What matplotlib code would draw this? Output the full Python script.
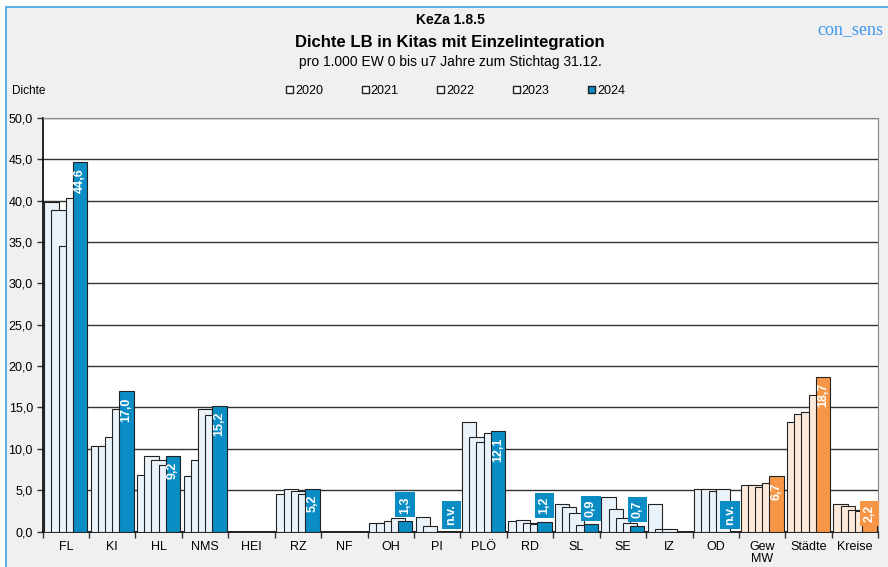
import numpy as np
import matplotlib.pyplot as plt
from matplotlib.patches import Patch, Rectangle

plt.rcParams['font.family'] = ['Liberation Sans', 'DejaVu Sans']

categories = ['FL', 'KI', 'HL', 'NMS', 'HEI', 'RZ', 'NF', 'OH', 'PI', 'PLÖ',
              'RD', 'SL', 'SE', 'IZ', 'OD', 'Gew\nMW', 'Städte', 'Kreise']
years = ['2020', '2021', '2022', '2023', '2024']
nan = np.nan
v2020 = [39.8, 10.3, 6.9, 6.7, nan, 4.6, nan, 1.0, 1.8, 13.2, 1.3, 3.35, 4.2, 3.3, 5.1, 5.6, 13.25, 3.4]
v2021 = [38.9, 10.3, 9.2, 8.7, nan, 5.1, nan, 1.0, 0.7, 11.4, 1.45, 3.0, 2.7, 0.3, 5.1, 5.6, 14.2, 3.05]
v2022 = [34.5, 11.4, 8.6, 14.8, nan, 4.9, nan, 1.3, nan, 10.8, 1.0, 2.2, 1.6, 0.3, 4.9, 5.4, 14.5, 2.6]
v2023 = [40.3, 14.8, 8.1, 14.1, nan, 4.5, nan, 1.6, nan, 11.9, 0.9, 0.85, 1.0, nan, 5.2, 5.9, 16.5, 2.5]
v2024 = [44.6, 17.0, 9.2, 15.2, nan, 5.2, nan, 1.3, nan, 12.1, 1.2, 0.9, 0.7, nan, nan, 6.7, 18.7, 2.2]
labels2024 = ['44,6', '17,0', '9,2', '15,2', '', '5,2', '', '1,3', 'n.v.', '12,1',
              '1,2', '0,9', '0,7', '', 'n.v.', '6,7', '18,7', '2,2']
yticks = np.arange(0, 50.1, 5)

blue = '#0a8cc4'
light = '#eaf3fa'
orange = '#f79646'
light_or = '#fde9d9'
n_agg = 3  # last three categories are aggregates

fig = plt.figure(figsize=(8.88, 5.67), dpi=100)
fig.patch.set_facecolor('white')
# frame (only top and left edge visible)
fig.patches.append(Rectangle((6 / 888, -0.1), 1.1, 1.1 - 7 / 567, transform=fig.transFigure,
                             facecolor='#f0f0f0', edgecolor='#3aa6d8', lw=1.2, zorder=-10))

ax = fig.add_axes([0.048, 0.0623, 0.941, 0.7301])
ax.set_facecolor('white')

x = np.arange(len(categories))
w = 0.31
offs = [-0.31, -0.155, 0.0, 0.155, 0.31]
series = [v2020, v2021, v2022, v2023, v2024]
for k, vals in enumerate(series):
    vals = np.array(vals, dtype=float)
    if k < 4:
        cols = np.array([light] * (len(x) - n_agg) + [light_or] * n_agg)
    else:
        cols = np.array([blue] * (len(x) - n_agg) + [orange] * n_agg)
    ok = np.isfinite(vals)
    ax.bar(x[ok] + offs[k], vals[ok], width=w, color=cols[ok],
           edgecolor='#222222', linewidth=0.8, zorder=3 + k)

# labels for 2024
for i, lab in enumerate(labels2024):
    if not lab:
        continue
    v = v2024[i]
    col = orange if i >= len(x) - n_agg else blue
    box = dict(boxstyle='square,pad=0.3', facecolor=col, edgecolor='none')
    kw = dict(rotation=90, ha='center', color='white', fontsize=9,
              fontweight='bold', zorder=20)
    if lab == 'n.v.':
        ax.text(x[i] + offs[4], 2.0, lab, va='center', bbox=box, **kw)
    elif v < 2:
        ax.text(x[i] + offs[4], v + 1.95, lab, va='center', bbox=box, **kw)
    elif v < 4.5:
        ax.text(x[i] + offs[4], v, lab, va='center', bbox=box, **kw)
    else:
        ax.text(x[i] + offs[4], v - 0.75, lab, va='top', **kw)

ax.set_xlim(-0.5, len(x) - 0.5)
ax.set_ylim(0, 50)
ax.set_yticks(yticks)
ax.set_yticklabels([f'{t:.1f}'.replace('.', ',') for t in yticks], fontsize=9)
ax.yaxis.grid(True, color='#333333', linewidth=1.0, zorder=0)
ax.set_axisbelow(True)
ax.set_xticks(x)
ax.set_xticklabels(categories, fontsize=9, va='top', linespacing=1.0)
ax.set_xticks(np.arange(-0.5, len(x) + 0.5, 1), minor=True)
ax.tick_params(axis='x', which='major', length=0, pad=7)
ax.tick_params(axis='x', which='minor', length=4, width=1, color='#333333')
ax.tick_params(axis='y', length=4, width=1, color='#333333', pad=3)
for s in ['top', 'right']:
    ax.spines[s].set_color('#888888')
ax.spines['left'].set_linewidth(1.2)
ax.spines['bottom'].set_linewidth(1.2)

fig.text(0.507, 1 - 20 / 567, 'KeZa 1.8.5', ha='center', va='center', fontsize=10, fontweight='bold')
fig.text(0.507, 1 - 43 / 567, 'Dichte LB in Kitas mit Einzelintegration', ha='center', va='center',
         fontsize=12, fontweight='bold')
fig.text(0.507, 1 - 62 / 567, 'pro 1.000 EW 0 bis u7 Jahre zum Stichtag 31.12.', ha='center',
         va='center', fontsize=10)
fig.text(0.958, 1 - 30 / 567, 'con_sens', ha='center', va='center', fontsize=13,
         family='Liberation Serif', color='#3d97ee')
fig.text(12 / 888, 1 - 91 / 567, 'Dichte', ha='left', va='center', fontsize=8.5)

handles = [Patch(facecolor='white', edgecolor='#222222') for _ in range(4)]
handles.append(Patch(facecolor=blue, edgecolor='#222222'))
fig.legend(handles, years, loc='center', bbox_to_anchor=(0.513, 1 - 91 / 567), ncol=5,
           frameon=False, fontsize=9, handlelength=0.55, handleheight=0.55,
           handletextpad=0.15, columnspacing=3.1)

fig.savefig('out.png', dpi=100, facecolor=fig.get_facecolor())
